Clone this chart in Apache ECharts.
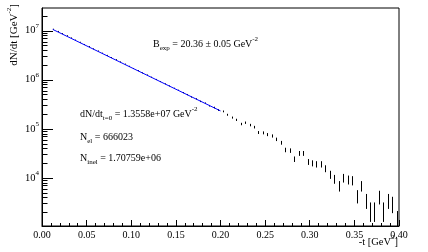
<!DOCTYPE html>
<html><head><meta charset="utf-8">
<script src="https://cdn.jsdelivr.net/npm/echarts@6/dist/echarts.min.js"></script>
<style>html,body{margin:0;padding:0;background:#fff}#c{width:428px;height:252px}</style>
</head><body><div id="c"></div>
<script>
// bin centres of -t [GeV^2]
const binCenters = [
  0.0125,0.0175,0.0225,0.0275,0.0325,0.0375,0.0425,0.0475,0.0525,0.0575,
  0.0625,0.0675,0.0725,0.0775,0.0825,0.0875,0.0925,0.0975,0.1025,0.1075,
  0.1125,0.1175,0.1225,0.1275,0.1325,0.1375,0.1425,0.1475,0.1525,0.1575,
  0.1625,0.1675,0.1725,0.1775,0.1825,0.1875,0.1925,0.1975,0.2025,0.2075,
  0.2125,0.2175,0.2225,0.2275,0.2325,0.2375,0.2425,0.2475,0.2525,0.2575,
  0.2625,0.2675,0.2725,0.2775,0.2825,0.2875,0.2925,0.2975,0.3025,0.3075,
  0.3125,0.3175,0.3225,0.3275,0.3325,0.3375,0.3425,0.3475,0.3525,0.3575,
  0.3625,0.3675,0.3725,0.3775,0.3825,0.3875,0.3925,0.3975
];
// dN/dt per bin
const dndt = [
  1.051e7,9.50e6,8.57e6,7.75e6,6.99e6,6.32e6,5.71e6,5.15e6,4.66e6,4.20e6,
  3.80e6,3.43e6,3.10e6,2.80e6,2.53e6,2.28e6,2.06e6,1.86e6,1.68e6,1.52e6,
  1.37e6,1.24e6,1.12e6,1.01e6,9.15e5,8.22e5,7.47e5,6.70e5,6.10e5,5.46e5,
  4.98e5,4.45e5,4.06e5,3.62e5,3.32e5,2.95e5,2.71e5,2.41e5,2.26e5,1.93e5,
  1.69e5,1.52e5,1.25e5,1.33e5,1.19e5,1.08e5,8.40e4,8.26e4,7.62e4,7.14e4,
  6.10e4,5.19e4,3.71e4,3.60e4,2.41e4,3.16e4,3.16e4,2.12e4,1.99e4,1.90e4,
  1.90e4,1.55e4,1.17e4,9.50e3,6.90e3,1.00e4,9.20e3,8.90e3,4.30e3,6.90e3,
  3.50e3,2.20e3,2.20e3,4.15e3,2.20e3,3.50e3,3.00e3,1.36e3
];
// statistical errors per bin
const errors = [
  6.5e4,6.2e4,5.9e4,5.6e4,5.3e4,5.0e4,4.8e4,4.5e4,4.3e4,4.1e4,
  3.9e4,3.7e4,3.5e4,3.3e4,3.2e4,3.0e4,2.9e4,2.7e4,2.6e4,2.5e4,
  2.3e4,2.2e4,2.1e4,2.0e4,1.9e4,1.8e4,1.7e4,1.6e4,1.56e4,1.48e4,
  1.41e4,1.33e4,1.27e4,1.2e4,1.15e4,1.09e4,1.04e4,9.8e3,9.5e3,8.8e3,
  8.2e3,7.8e3,7.1e3,7.3e3,6.9e3,6.6e3,5.8e3,5.7e3,5.5e3,5.3e3,
  4.9e3,4.6e3,3.9e3,3.8e3,3.1e3,3.6e3,3.6e3,2.9e3,2.8e3,2.8e3,
  2.8e3,2.5e3,2.2e3,1.95e3,1.66e3,2.0e3,1.9e3,1.9e3,1.3e3,1.66e3,
  1.18e3,940,940,1.29e3,940,1.18e3,1.1e3,740
];
// exponential fit drawn between its range ends
const fitT = [0.012, 0.200];
const fitY = [1.062e7, 2.312e5];
// y axis ticks (log)
const yMajorTicks = [1e4,1e5,1e6,1e7];
const yMinorTicks = [2e3,3e3,4e3,5e3,6e3,7e3,8e3,9e3,
  2e4,3e4,4e4,5e4,6e4,7e4,8e4,9e4,
  2e5,3e5,4e5,5e5,6e5,7e5,8e5,9e5,
  2e6,3e6,4e6,5e6,6e6,7e6,8e6,9e6, 2e7];
const xTickLabels = ['0.00','0.05','0.10','0.15','0.20','0.25','0.30','0.35','0.40'];

const FONT = '"Liberation Serif","DejaVu Serif",serif';
const chart = echarts.init(document.getElementById('c'), null, {renderer:'canvas'});

const pointData = binCenters.map((t,i)=>[t, dndt[i], errors[i]]);
const tickData = yMajorTicks.map(v=>[0,v,1]).concat(yMinorTicks.map(v=>[0,v,0]));
const fitData = fitT.map((t,i)=>[t, fitY[i]]);

const supRich = {
  sup:{fontSize:7, fontFamily:FONT, color:'#000', verticalAlign:'top', lineHeight:8},
  sub:{fontSize:7, fontFamily:FONT, color:'#000', verticalAlign:'bottom', lineHeight:8}
};
function txt(x, y, text, align, rot, size){
  const o = {type:'text', x:x, y:y, z:100, style:{
    text:text, fontFamily:FONT, fontSize:size||10, fill:'#000', lineHeight:16,
    verticalAlign:'middle', align:align||'left', rich:supRich
  }};
  if (rot) o.rotation = rot;
  return o;
}

chart.setOption({
  animation:false,
  backgroundColor:'#fff',
  grid:{left:42, top:8, width:357, height:218, show:true, borderColor:'#000', borderWidth:1, containLabel:false},
  xAxis:{
    type:'value', min:0, max:0.4, interval:0.05,
    axisLine:{show:true, lineStyle:{color:'#000', width:1}},
    axisTick:{show:true, inside:true, length:6, lineStyle:{color:'#000'}},
    minorTick:{show:true, splitNumber:5, length:3, lineStyle:{color:'#000'}},
    splitLine:{show:false},
    axisLabel:{margin:4, fontFamily:FONT, fontSize:10, color:'#000',
      formatter:(v)=>{const i=Math.round(v/0.05); return Math.abs(v-i*0.05)<1e-6 ? xTickLabels[i] : '';}}
  },
  yAxis:{
    type:'log', logBase:10, min:1040, max:2.9e7,
    axisLine:{show:true, lineStyle:{color:'#000', width:1}},
    axisTick:{show:false},
    splitLine:{show:false},
    axisLabel:{margin:3, fontFamily:FONT, fontSize:10.5, color:'#000', lineHeight:16,
      formatter:(v)=>{const e=Math.log10(v); const r=Math.round(e); return Math.abs(e-r)<0.01 ? '10{s|'+r+'}' : '';},
      rich:{s:{fontSize:7, fontFamily:FONT, color:'#000', verticalAlign:'top', lineHeight:8}}}
  },
  series:[
    {
      type:'custom', name:'ticks', data:tickData, z:5, silent:true,
      encode:{x:0, y:1},
      renderItem:(params, api)=>{
        const p = api.coord([api.value(0), api.value(1)]);
        const cs = params.coordSys;
        if (p[1] < cs.y || p[1] > cs.y + cs.height) return null;
        const len = api.value(2) ? 11 : 5.5;
        const y = Math.round(p[1]) + 0.5;
        return {type:'line', shape:{x1:p[0], y1:y, x2:p[0]+len, y2:y}, style:{stroke:'#000', lineWidth:1}};
      }
    },
    {
      type:'custom', name:'data', data:pointData, z:4, silent:true,
      encode:{x:0, y:1},
      renderItem:(params, api)=>{
        const t = api.value(0), v = api.value(1), e = api.value(2);
        const lo = Math.max(v - e, 1);
        const p1 = api.coord([t, lo]);
        const p2 = api.coord([t, v + e]);
        const cs = params.coordSys;
        const yb = Math.min(p1[1], cs.y + cs.height);
        const yt = Math.max(p2[1], cs.y);
        const x = Math.round(p1[0]) + 0.5;
        return {type:'line', shape:{x1:x, y1:yb, x2:x, y2:Math.min(yt, yb-1)}, style:{stroke:'#000', lineWidth:1}};
      }
    },
    {
      type:'line', name:'fit', data:fitData, showSymbol:false, symbol:'none', z:6, silent:true,
      lineStyle:{color:'#0000ff', width:1}
    }
  ],
  graphic:[
    txt(14, 4, 'dN/dt [GeV{sup|-2}]', 'right', Math.PI/2, 11),
    txt(398, 242, '-t [GeV{sup|2}]', 'right', 0, 10.5),
    txt(153, 44, 'B{sub|exp} = 20.36 \u00b1 0.05 GeV{sup|-2}'),
    txt(80, 114, 'dN/dt{sub|t=0} = 1.3558e+07 GeV{sup|-2}'),
    txt(80, 137, 'N{sub|el} = 666023'),
    txt(80, 158, 'N{sub|inel} = 1.70759e+06')
  ]
});
</script></body></html>
